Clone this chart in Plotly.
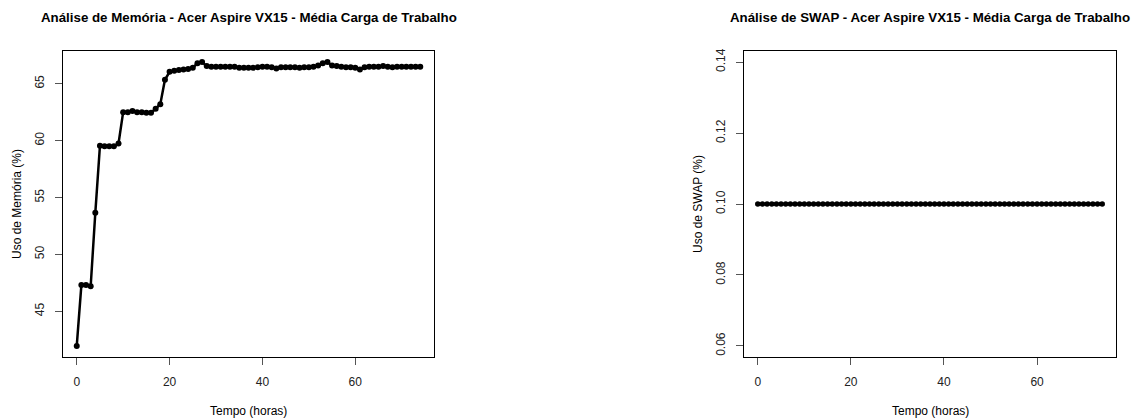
import plotly.graph_objects as go

hours = list(range(75))
memoria = [41.95, 47.3, 47.3, 47.2, 53.65, 59.55, 59.5, 59.5, 59.5, 59.75,
           62.5, 62.5, 62.6, 62.5, 62.5, 62.45, 62.45, 62.8, 63.2, 65.35,
           66.05, 66.15, 66.2, 66.25, 66.3, 66.4, 66.8, 66.9, 66.55, 66.5,
           66.5, 66.5, 66.5, 66.5, 66.5, 66.4, 66.4, 66.4, 66.4, 66.45,
           66.5, 66.5, 66.45, 66.35, 66.45, 66.45, 66.45, 66.45, 66.4, 66.45,
           66.45, 66.5, 66.6, 66.8, 66.9, 66.6, 66.55, 66.5, 66.45, 66.45,
           66.4, 66.25, 66.45, 66.5, 66.5, 66.5, 66.55, 66.5, 66.45, 66.5,
           66.5, 66.5, 66.5, 66.5, 66.5]
swap = [0.1] * 75

x_ticks = [0, 20, 40, 60]
mem_ticks = [45, 50, 55, 60, 65]
swap_ticks = [0.06, 0.08, 0.10, 0.12, 0.14]
swap_tick_text = ["0.06", "0.08", "0.10", "0.12", "0.14"]

titulo_mem = "Análise de Memória - Acer Aspire VX15 - Média Carga de Trabalho"
titulo_swap = "Análise de SWAP - Acer Aspire VX15 - Média Carga de Trabalho"
xlab = "Tempo (horas)"
ylab_mem = "Uso de Memória (%)"
ylab_swap = "Uso de SWAP (%)"

W, H = 1137, 420
FONT = "Liberation Sans, Arial, sans-serif"


def rpad(lo, hi):
    d = hi - lo
    return [lo - 0.04 * d, hi + 0.04 * d]


fig = go.Figure()
fig.add_trace(go.Scatter(x=hours, y=memoria, mode="lines+markers",
                         line=dict(color="black", width=2.5),
                         marker=dict(color="black", size=6),
                         xaxis="x", yaxis="y", showlegend=False))
fig.add_trace(go.Scatter(x=hours, y=swap, mode="lines+markers",
                         line=dict(color="black", width=2.5),
                         marker=dict(color="black", size=5.5),
                         xaxis="x2", yaxis="y2", showlegend=False))

box = (63, 434, 744, 1116, 49, 357)
dom1 = [box[0] / W, box[1] / W]
dom2 = [box[2] / W, box[3] / W]
ydom = [1 - box[5] / H, 1 - box[4] / H]

sw_lo, sw_hi = 0.1 * 0.6, 0.1 * 1.4

axis_common = dict(showgrid=False, zeroline=False, showline=True, mirror=True,
                   linecolor="black", linewidth=1, ticks="outside", ticklen=7,
                   tickcolor="#555", tickwidth=1,
                   tickfont=dict(family=FONT, size=12, color="#222"))

fig.update_layout(
    width=W, height=H, margin=dict(l=0, r=0, t=0, b=0),
    paper_bgcolor="white", plot_bgcolor="white",
    xaxis=dict(domain=dom1, range=rpad(0, 74), tickvals=x_ticks, anchor="y",
               ticklabelstandoff=6, **axis_common),
    yaxis=dict(domain=ydom, range=rpad(min(memoria), max(memoria)), tickvals=mem_ticks,
               anchor="x", tickangle=-90, ticklabelstandoff=6, **axis_common),
    xaxis2=dict(domain=dom2, range=rpad(0, 74), tickvals=x_ticks, anchor="y2",
                ticklabelstandoff=6, **axis_common),
    yaxis2=dict(domain=ydom, range=rpad(sw_lo, sw_hi), tickvals=swap_ticks,
                ticktext=swap_tick_text, anchor="x2", tickangle=-90,
                ticklabelstandoff=6, **axis_common),
)

def ann(text, px, py, size, bold=False, angle=0):
    fig.add_annotation(text=f"<b>{text}</b>" if bold else text,
                       x=px / W, y=1 - py / H, xref="paper", yref="paper",
                       showarrow=False, textangle=angle, xanchor="center", yanchor="middle",
                       font=dict(family=FONT, size=size, color="black"))

ann(titulo_mem, (box[0] + box[1]) / 2, 16, 13.3, bold=True)
ann(titulo_swap, (box[2] + box[3]) / 2, 16, 13.3, bold=True)
ann(xlab, (box[0] + box[1]) / 2, 411, 12)
ann(xlab, (box[2] + box[3]) / 2, 411, 12)
ann(ylab_mem, 17, 203, 12, angle=-90)
ann(ylab_swap, 698, 203, 12, angle=-90)

fig.write_html("out.html", config={"displayModeBar": False},
               post_script="document.body.style.margin='0';document.body.style.overflow='hidden';")
